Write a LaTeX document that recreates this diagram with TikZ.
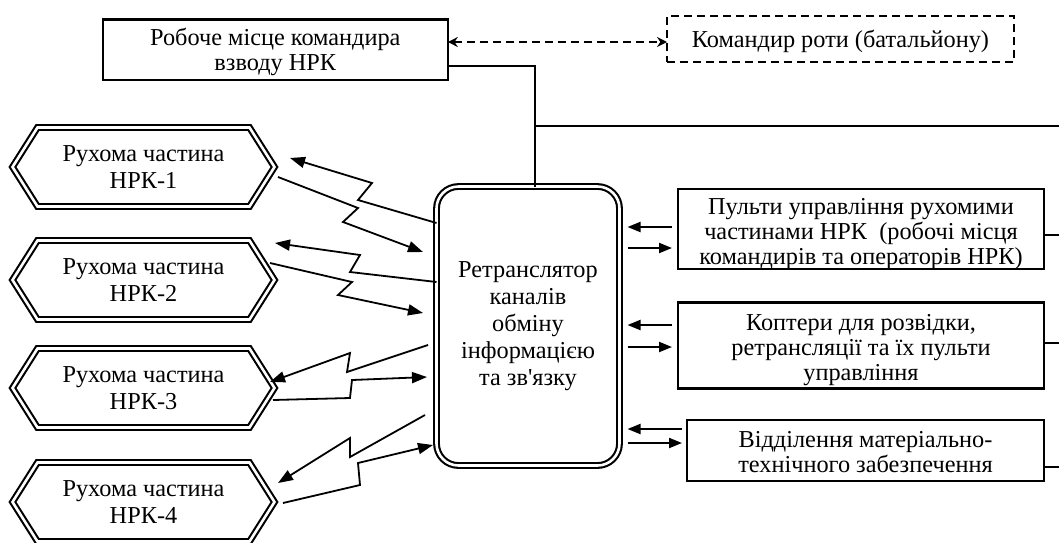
\documentclass[tikz,border=0pt]{standalone}
\usepackage{fontspec}
\setmainfont{Liberation Serif}
\usetikzlibrary{arrows.meta,calc}
% centred lines of text, moved down by #1 without changing the box size
\newcommand\lowtext[2]{\raisebox{-#1}[\height][\depth]{\begin{tabular}{@{}c@{}}#2\end{tabular}}}
\begin{document}
\begin{tikzpicture}[x=1pt,y=-1pt,
  every node/.style={font=\fontsize{24.3}{27}\selectfont, align=center, inner sep=0pt, outer sep=0pt},
  tight/.style={font=\fontsize{24.3}{25}\selectfont},
  plainbox/.style={draw, line width=2.4pt},
  dashbox/.style={draw, line width=2.6pt, dash pattern=on 8pt off 5pt},
  dbl/.style={draw, line width=2.1pt, double, double distance=2.6pt},
  wire/.style={line width=2.4pt},
  feed/.style={line width=2.1pt, -{Triangle[length=13pt,width=10pt]}},
  zap/.style={line width=1.8pt, -{Triangle[length=15pt,width=11pt]}},
  link/.style={line width=2.2pt, dash pattern=on 8pt off 5pt,
    {Stealth[length=10pt,width=10pt]}-{Stealth[length=10pt,width=10pt]}},
  hexnode/.style={minimum width=262pt, minimum height=79pt}
]
\useasboundingbox (0,0) rectangle (1059,542);

% platoon commander and company commander
\node[plainbox, tight, minimum width=345pt, minimum height=60.5pt] (top) at (275.3,49.6)
  {\lowtext{3pt}{Робоче місце командира\\взводу НРК}};
\node[dashbox, minimum width=347pt, minimum height=46pt] (coy) at (840.5,39)
  {\lowtext{3pt}{Командир роти (батальйону)}};
\draw[link] (top.east |- 0,42) -- (coy.west |- 0,42);

% relay
\node[dbl, rounded corners=22pt, minimum width=183pt, minimum height=279pt] (relay) at (528,326)
  {Ретранслятор\\каналів\\обміну\\інформацією\\та зв\textquotesingle язку};

% mobile parts
\node[hexnode] (h1) at (143.5,167) {Рухома частина\\НРК-1};
\node[hexnode] (h2) at (143.5,280) {Рухома частина\\НРК-2};
\node[hexnode] (h3) at (143.5,388) {Рухома частина\\НРК-3};
\node[hexnode] (h4) at (143.5,502) {Рухома частина\\НРК-4};
\foreach \n in {h1,h2,h3,h4}
  \draw[dbl] ([xshift=25pt]\n.north west) -- ([xshift=-25pt]\n.north east) -- (\n.east)
    -- ([xshift=-25pt]\n.south east) -- ([xshift=25pt]\n.south west) -- (\n.west) -- cycle;

% radio links
\draw[zap] (relay.west |- 0,223) -- (358,200) -- (372,183) -- (290,158);
\draw[zap] (278,177) -- (358,208) -- (343,222) -- (423,252);
\draw[zap] (relay.west |- 0,282) -- (350,272) -- (360,255) -- (275,243);
\draw[zap] (270,263) -- (352,282) -- (338,295) -- (423,313);
\draw[zap] (428,345) -- (347,372) -- (350,353) -- (270,382);
\draw[zap] (273,400) -- (350,398) -- (352,380) -- (427,377);
\draw[zap] (425,415) -- (350,457) -- (350,438) -- (278,483);
\draw[zap] (283,503) -- (360,485) -- (358,463) -- (433,445);

% right-hand units
\node[plainbox, tight, minimum width=366pt, minimum height=80pt] (pult) at (861,229)
  {\lowtext{5pt}{Пульти управління рухомими\\частинами НРК~ (робочі місця\\командирів та операторів НРК)}};
\node[plainbox, tight, minimum width=366pt, minimum height=86pt] (kopt) at (861,345.5)
  {\lowtext{5pt}{Коптери для розвідки,\\ретрансляції та їх пульти\\управління}};
\node[plainbox, tight, minimum width=357pt, minimum height=61pt] (vmtz) at (865.5,450.5)
  {\lowtext{4pt}{Відділення матеріально-\\технічного забезпечення}};

\draw[feed, shorten <=6pt, shorten >=8pt] (pult.west |- 0,227) -- (relay.east |- 0,227);
\draw[feed, shorten <=8pt, shorten >=6pt] (relay.east |- 0,248) -- (pult.west |- 0,248);
\draw[feed, shorten <=6pt, shorten >=8pt] (kopt.west |- 0,325) -- (relay.east |- 0,325);
\draw[feed, shorten <=8pt, shorten >=6pt] (relay.east |- 0,347) -- (kopt.west |- 0,347);
\draw[feed, shorten <=5pt, shorten >=8pt] (vmtz.west |- 0,429) -- (relay.east |- 0,429);
\draw[feed, shorten <=8pt, shorten >=5pt] (relay.east |- 0,443) -- (vmtz.west |- 0,443);

% control bus
\coordinate (bus) at (535,126);
\coordinate (busR) at (1059,126);
\coordinate (rA) at (1059,235);
\coordinate (rB) at (1059,343);
\coordinate (rC) at (1059,467);
\draw[wire] (top.east |- 0,66) -| (bus) -- (bus |- relay.north);
\draw[wire] (bus) -- (busR);
\draw[wire] (pult.east |- rA) -- (rA);
\draw[wire] (kopt.east |- rB) -- (rB);
\draw[wire] (vmtz.east |- rC) -- (rC);
\end{tikzpicture}
\end{document}
